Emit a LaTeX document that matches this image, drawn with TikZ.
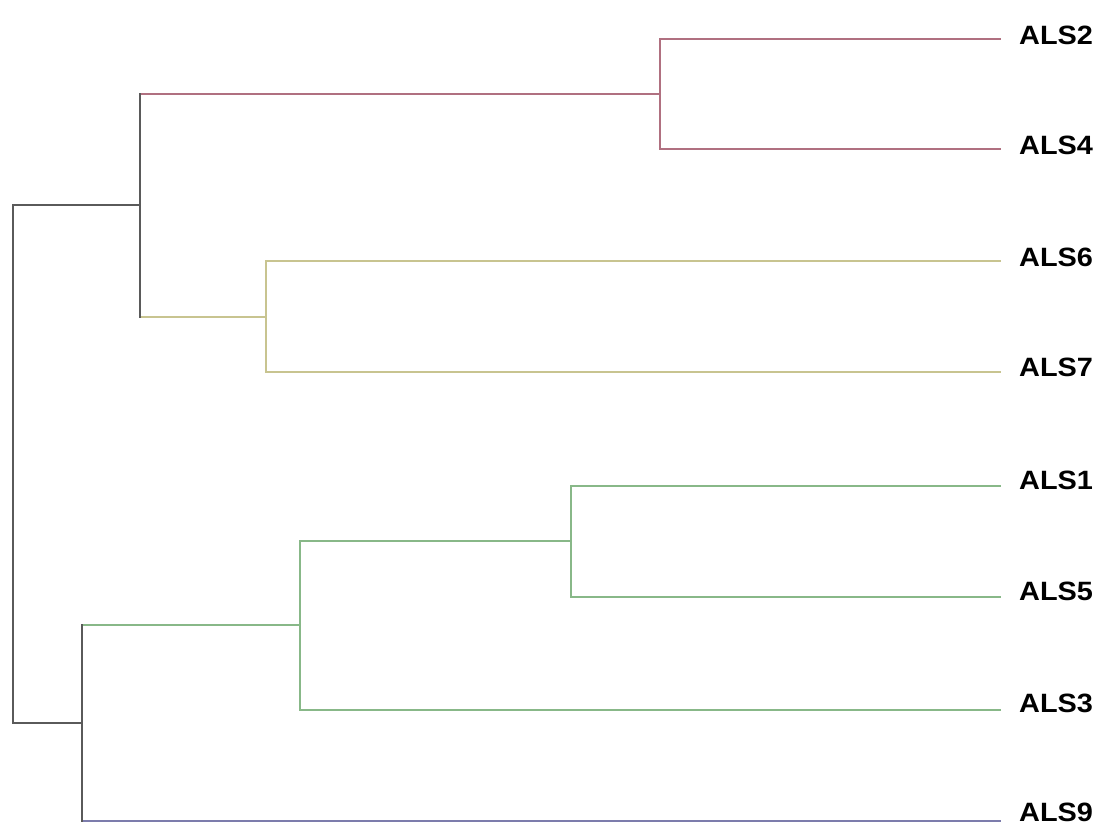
\documentclass[tikz,border=0pt]{standalone}
\usepackage{fontspec}
\setmainfont{Liberation Sans}
\definecolor{cred}{HTML}{B07080}
\definecolor{cyel}{HTML}{C8C490}
\definecolor{cgrn}{HTML}{88B888}
\definecolor{cblu}{HTML}{7C7CAC}
\definecolor{cblk}{HTML}{5A5A5A}
\begin{document}
\begin{tikzpicture}[x=1pt,y=-1pt,
  br/.style={line width=2.4pt,line cap=rect},
  lbl/.style={anchor=base west,inner sep=0pt,font=\fontsize{26.5}{30}\selectfont\bfseries}]
\useasboundingbox (0,0) rectangle (1098,825);
% leaves
\coordinate (l2) at (1000,39);
\coordinate (l4) at (1000,149);
\coordinate (l6) at (1000,261);
\coordinate (l7) at (1000,372);
\coordinate (l1) at (1000,486);
\coordinate (l5) at (1000,597);
\coordinate (l3) at (1000,710);
\coordinate (l9) at (1000,821);
% internal nodes
\coordinate (n24) at (660,94);
\coordinate (n67) at (266,317);
\coordinate (nA) at (140,205);
\coordinate (n15) at (571,541);
\coordinate (n153) at (300,625);
\coordinate (nB) at (82,723);
\coordinate (root) at (13,464);
% labels
\node[lbl] (t2) at (1019,44) {\scalebox{1.09}[1]{ALS2}};
\node[lbl] (t4) at (1019,154) {\scalebox{1.09}[1]{ALS4}};
\node[lbl] (t6) at (1019,266) {\scalebox{1.09}[1]{ALS6}};
\node[lbl] (t7) at (1019,376) {\scalebox{1.09}[1]{ALS7}};
\node[lbl] (t1) at (1019,489) {\scalebox{1.09}[1]{ALS1}};
\node[lbl] (t5) at (1019,600) {\scalebox{1.09}[1]{ALS5}};
\node[lbl] (t3) at (1019,712) {\scalebox{1.09}[1]{ALS3}};
\node[lbl] (t9) at (1019,821) {\scalebox{1.09}[1]{ALS9}};
% red cluster
\draw[br,cred] (l2) -| (n24) |- (l4);
\draw[br,cred] (n24) -- (nA |- n24);
% yellow cluster
\draw[br,cyel] (l6) -| (n67) |- (l7);
\draw[br,cyel] (n67) -- (nA |- n67);
% black joins
\draw[br,cblk] (nA |- n24) -- (nA |- n67);
\draw[br,cblk] (nA) -- (root |- nA) -- (root |- nB) -- (nB);
% green cluster
\draw[br,cgrn] (l1) -| (n15) |- (l5);
\draw[br,cgrn] (n15) -| (n153) |- (l3);
\draw[br,cgrn] (n153) -- (nB |- n153);
% blue
\draw[br,cblu] (l9) -- (nB |- l9);
\draw[br,cblk] (nB |- n153) -- (nB |- l9);
\end{tikzpicture}
\end{document}
